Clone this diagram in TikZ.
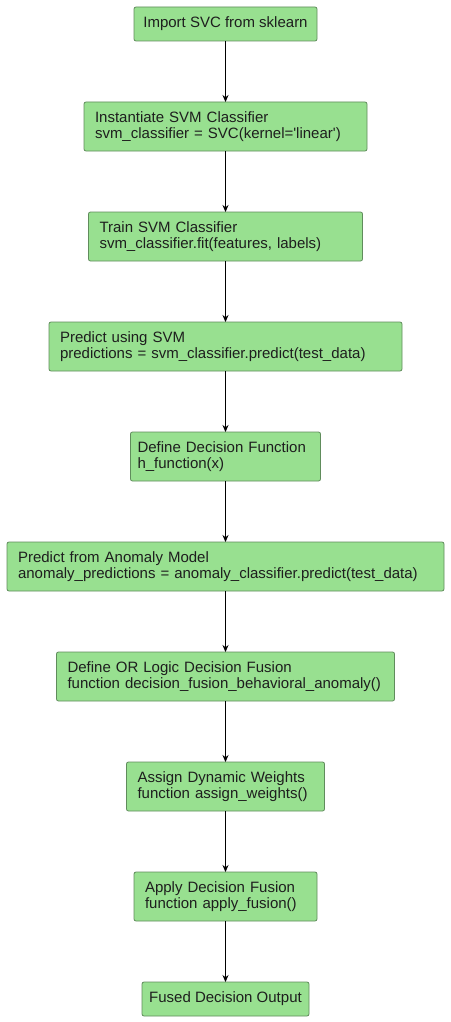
\documentclass[tikz,border=0pt]{standalone}
\usepackage{fontspec}
\setmainfont{Liberation Sans}
\usetikzlibrary{positioning, arrows.meta}
\definecolor{boxfill}{RGB}{152,224,144}
\definecolor{boxline}{RGB}{96,140,92}
\definecolor{boxtext}{RGB}{30,30,30}

\begin{document}
\begin{tikzpicture}[
    x=1pt, y=-1pt,
    node distance=61pt,
    every node/.style={font=\fontsize{15}{16}\selectfont, text=boxtext},
    stage/.style={draw=boxline, line width=0.8pt, fill=boxfill, rounded corners=2pt,
                  align=left, inner xsep=11pt, inner ysep=3pt, outer sep=0pt,
                  minimum height=49pt},
    single/.style={align=center, inner xsep=4pt, minimum height=34pt},
    flow/.style={-{Stealth[length=7pt, width=6pt]}, line width=0.8pt, black},
]
\useasboundingbox (0,0) rectangle (450,1022);

% --- Шаги конвейера, сверху вниз -------------------------------------
\node[stage, single, minimum width=183pt] (import) at (225.5, 24) {Import SVC from sklearn};
\node[stage, text width=261pt, below=of import] (inst)
    {Instantiate SVM Classifier\\svm\_classifier = SVC(kernel=\textquotesingle linear\textquotesingle)};
\node[stage, text width=252pt, below=of inst] (train)
    {Train SVM Classifier\\svm\_classifier.fit(features, labels)};
\node[stage, text width=331pt, below=of train] (predict)
    {Predict using SVM\\predictions = svm\_classifier.predict(test\_data)};
\node[stage, text width=176pt, inner xsep=7pt, below=of predict] (hfunc)
    {Define Decision Function\\h\_function(x)};
\node[stage, text width=415pt, below=of hfunc] (anomaly)
    {Predict from Anomaly Model\\anomaly\_predictions = anomaly\_classifier.predict(test\_data)};
\node[stage, text width=316pt, below=of anomaly] (orlogic)
    {Define OR Logic Decision Fusion\\function decision\_fusion\_behavioral\_anomaly()};
\node[stage, text width=176pt, below=of orlogic] (weights)
    {Assign Dynamic Weights\\function assign\_weights()};
\node[stage, text width=161pt, below=of weights] (fusion)
    {Apply Decision Fusion\\function apply\_fusion()};
\node[stage, single, minimum width=167pt, below=of fusion] (output) {Fused Decision Output};

% --- Стрелки между шагами ---------------------------------------------
\foreach \a/\b in {import/inst, inst/train, train/predict, predict/hfunc, hfunc/anomaly,
                   anomaly/orlogic, orlogic/weights, weights/fusion, fusion/output}
    \draw[flow] (\a) -- (\b);

\end{tikzpicture}
\end{document}
